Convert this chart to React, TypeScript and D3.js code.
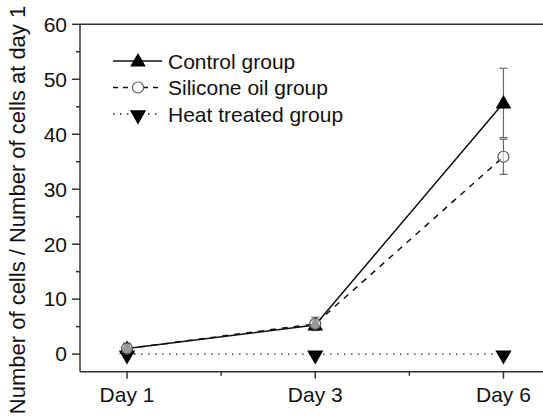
import React from "react";
import * as d3 from "d3";

const days = ["Day 1", "Day 3", "Day 6"];
const controlMean = [1.0, 5.3, 45.7];
const controlErr = [1.0, 0.8, 6.3];
const siliconeMean = [1.0, 5.5, 35.9];
const siliconeErr = [0.9, 1.2, 3.2];
const heatMean = [0, 0, 0];
const yMajorTicks = [0, 10, 20, 30, 40, 50, 60];
const yMinorTicks = [5, 15, 25, 35, 45, 55];
const legendLabels = ["Control group", "Silicone oil group", "Heat treated group"];
const yTitle = "Number of cells / Number of cells at day 1";

const W = 543;
const H = 416;
const FONT = "'Liberation Sans', Arial, Helvetica, sans-serif";

export default function App() {
  const x = d3.scalePoint<string>().domain(days).range([80, 550.5]).padding(0.25);
  const y = d3.scaleLinear().domain([-3.2, 60]).range([371.7, 24.3]);
  const xl = 80;
  const yb = y(-3.2);
  const yt = y(60);
  const step = x.step();
  const xMinor = days.slice(0, -1).map((d) => (x(d) as number) + step / 2);

  const line = d3
    .line<number>()
    .x((_, i) => x(days[i]) as number)
    .y((v) => y(v));

  const upTri = d3.symbol().type(d3.symbolTriangle).size(105)();
  const downTri = d3.symbol().type(d3.symbolTriangle).size(115)();

  const errBars = (means: number[], errs: number[], key: string) =>
    means.map((m, i) => {
      const cx = x(days[i]) as number;
      const y1 = y(m + errs[i]);
      const y2 = y(m - errs[i]);
      return (
        <g key={key + i} stroke="#6a6a6a" strokeWidth={1.2}>
          <line x1={cx} x2={cx} y1={y1} y2={y2} />
          <line x1={cx - 4} x2={cx + 4} y1={y1} y2={y1} />
          <line x1={cx - 4} x2={cx + 4} y1={y2} y2={y2} />
        </g>
      );
    });

  const legendRows = [61, 87.5, 114];

  return (
    <svg
      width={W}
      height={H}
      style={{ position: "absolute", left: 0, top: 0, background: "#fff" }}
      fontFamily={FONT}
    >
      <rect x={0} y={0} width={W} height={H} fill="#fff" />
      {/* frame */}
      <g stroke="#333" strokeWidth={1.5} fill="none">
        <line x1={xl} x2={W + 5} y1={yt} y2={yt} />
        <line x1={xl} x2={W + 5} y1={yb} y2={yb} />
        <line x1={xl} x2={xl} y1={yt} y2={yb} />
        {yMajorTicks.map((t) => (
          <line key={"ym" + t} x1={xl - 8} x2={xl} y1={y(t)} y2={y(t)} />
        ))}
        {yMinorTicks.map((t) => (
          <line key={"yn" + t} x1={xl - 4} x2={xl} y1={y(t)} y2={y(t)} />
        ))}
        {days.map((d) => (
          <line key={"xm" + d} x1={x(d)} x2={x(d)} y1={yb} y2={yb + 7} />
        ))}
        {xMinor.map((v, i) => (
          <line key={"xn" + i} x1={v} x2={v} y1={yb} y2={yb + 4} />
        ))}
      </g>
      {/* tick labels */}
      <g fontSize={21} fill="#111">
        {yMajorTicks.map((t) => (
          <text key={"yl" + t} x={67} y={y(t)} dy="0.35em" textAnchor="end">
            {t}
          </text>
        ))}
        {days.map((d) => (
          <text key={"xl" + d} x={x(d)} y={402} textAnchor="middle">
            {d}
          </text>
        ))}
      </g>
      <text
        transform={`translate(25, 210) rotate(-90)`}
        textAnchor="middle"
        fontSize={22}
        fill="#111"
      >
        {yTitle}
      </text>

      {/* series lines */}
      <path d={line(heatMean) || ""} fill="none" stroke="#222" strokeWidth={1.3} strokeDasharray="1.5 5.5" />
      <path d={line(siliconeMean) || ""} fill="none" stroke="#111" strokeWidth={1.5} strokeDasharray="6 6" />
      <path d={line(controlMean) || ""} fill="none" stroke="#111" strokeWidth={1.5} />

      {/* error bars */}
      {errBars(controlMean, controlErr, "ce")}
      {errBars(siliconeMean, siliconeErr, "se")}

      {/* markers */}
      {heatMean.map((v, i) => (
        <path
          key={"hm" + i}
          d={downTri || ""}
          transform={`translate(${x(days[i])},${y(v) + 1}) rotate(180)`}
          fill="#000"
        />
      ))}
      {controlMean.map((v, i) => (
        <path
          key={"cm" + i}
          d={upTri || ""}
          transform={`translate(${x(days[i])},${y(v) + 1})`}
          fill="#000"
        />
      ))}
      {siliconeMean.map((v, i) => (
        <circle
          key={"sm" + i}
          cx={x(days[i])}
          cy={y(v)}
          r={5.5}
          fill="#fff"
          fillOpacity={0.6}
          stroke="#555"
          strokeWidth={1.2}
        />
      ))}

      {/* legend */}
      <g>
        <line x1={113} x2={162} y1={legendRows[0]} y2={legendRows[0]} stroke="#111" strokeWidth={1.5} />
        <path d={upTri || ""} transform={`translate(138,${legendRows[0] + 1})`} fill="#000" />
        <line x1={113} x2={162} y1={legendRows[1]} y2={legendRows[1]} stroke="#111" strokeWidth={1.5} strokeDasharray="5 5" />
        <circle cx={138} cy={legendRows[1]} r={5.5} fill="#fff" stroke="#555" strokeWidth={1.2} />
        <line x1={113} x2={162} y1={legendRows[2]} y2={legendRows[2]} stroke="#222" strokeWidth={1.3} strokeDasharray="1.5 5.5" />
        <path d={downTri || ""} transform={`translate(138,${legendRows[2] + 1}) rotate(180)`} fill="#000" />
        {legendLabels.map((l, i) => (
          <text key={l} x={168} y={legendRows[i]} dy="0.36em" fontSize={21} fill="#111">
            {l}
          </text>
        ))}
      </g>
    </svg>
  );
}
